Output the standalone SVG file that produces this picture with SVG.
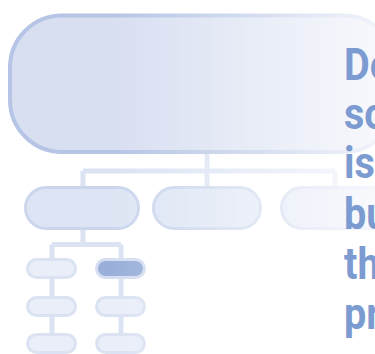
<svg xmlns="http://www.w3.org/2000/svg" width="375" height="354" viewBox="0 0 375 354">
<style>
.big{fill:#d8dff1;stroke:#b6c5e5;stroke-width:4}
.mid{fill:#dde5f4;stroke:#cbd6ed;stroke-width:3}
.sm{fill:#e9eef8;stroke:#dbe3f3;stroke-width:3}
.hl{fill:#9ab0da;stroke:#d6def1;stroke-width:3}
.ln{fill:none;stroke:#dbe3f3;stroke-width:5}
.tx{font-family:Roboto,"Liberation Sans",sans-serif;font-weight:700;font-size:45px;fill:#7b9bd1}
</style>
<defs>
<linearGradient id="fade" gradientUnits="userSpaceOnUse" x1="0" y1="0" x2="375" y2="0">
<stop offset="0" stop-color="#fff"/>
<stop offset="0.3" stop-color="#fff"/>
<stop offset="1" stop-color="#fff" stop-opacity="0.22"/>
</linearGradient>
<mask id="m" maskUnits="userSpaceOnUse" x="0" y="0" width="375" height="354">
<rect x="0" y="0" width="375" height="354" fill="url(#fade)"/>
</mask>
</defs>
<rect width="375" height="354" fill="#fff"/>
<g mask="url(#m)">
<g id="connectors" class="ln">
<path d="M207 152V171M83 171H335M83 171V188M207 171V188M335 171V188"/>
<path d="M83 229V244.5M52 244.5H121M52 244.5V354M121 244.5V354"/>
</g>
<g id="root"><rect class="big" x="10" y="15.5" width="386" height="136.5" rx="52"/></g>
<g id="n1"><rect class="mid" x="25.5" y="187.5" width="113" height="41" rx="20.5"/></g>
<g id="n2"><rect class="mid" x="153.5" y="187.5" width="107" height="41" rx="20.5"/></g>
<g id="n3"><rect class="mid" x="281.5" y="187.5" width="110" height="41" rx="20.5"/></g>
<g id="n11"><rect class="sm" x="27.5" y="259.5" width="48" height="18" rx="9"/></g>
<g id="n12"><rect class="sm" x="27.5" y="297.5" width="48" height="18" rx="9"/></g>
<g id="n13"><rect class="sm" x="27.5" y="334.5" width="48" height="18" rx="9"/></g>
<g id="n21"><rect class="hl" x="96.5" y="259.5" width="48" height="18" rx="9"/></g>
<g id="n22"><rect class="sm" x="96.5" y="297.5" width="48" height="18" rx="9"/></g>
<g id="n23"><rect class="sm" x="96.5" y="334.5" width="48" height="18" rx="9"/></g>
</g>
<g id="caption" class="tx" transform="translate(344 0) scale(0.88 1)">
<text x="0" y="80">De</text>
<text x="0" y="129">sc</text>
<text x="0" y="178">is</text>
<text x="0" y="229">bu</text>
<text x="0" y="279">th</text>
<text x="0" y="329">pr</text>
</g>
</svg>
